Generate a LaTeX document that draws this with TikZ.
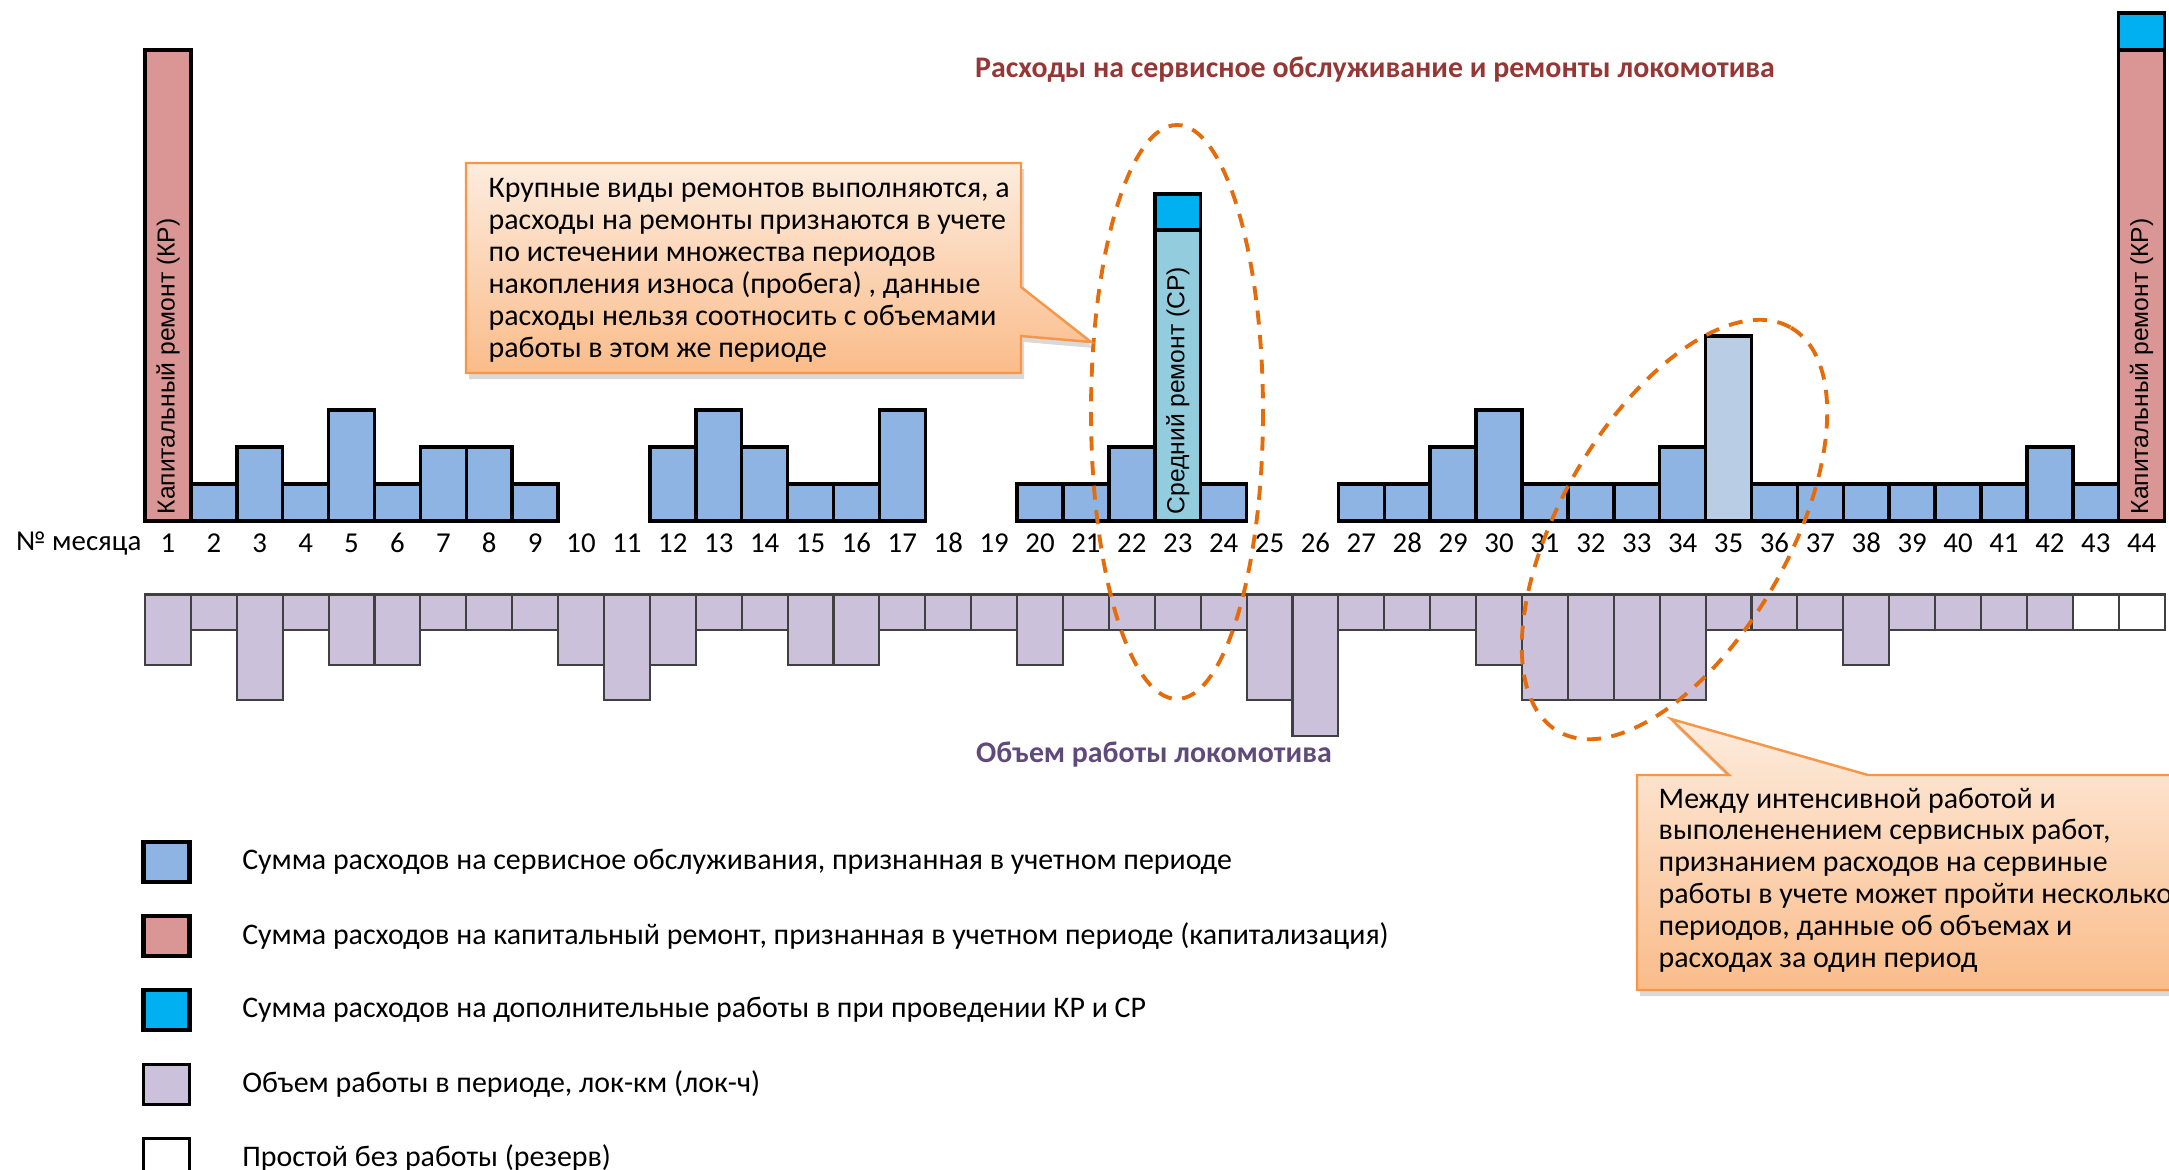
\documentclass[tikz,border=0pt]{standalone}
\usepackage{fontspec}
\setmainfont{Carlito}
\newfontfamily\barfont{Liberation Sans}
\usetikzlibrary{positioning,shadows}

\definecolor{srv}{RGB}{141,180,226}
\definecolor{srvlight}{RGB}{185,205,229}
\definecolor{kr}{RGB}{217,150,148}
\definecolor{sr}{RGB}{147,205,221}
\definecolor{extra}{RGB}{0,176,240}
\definecolor{vol}{RGB}{204,193,218}
\definecolor{headred}{RGB}{149,55,53}
\definecolor{headviolet}{RGB}{96,74,123}
\definecolor{noteline}{RGB}{247,150,70}
\definecolor{notetop}{RGB}{253,236,222}
\definecolor{notebot}{RGB}{250,188,138}
\definecolor{ring}{RGB}{228,108,10}

\begin{document}
\begin{tikzpicture}[
  x=0.01cm, y=-0.01cm,
  bar/.style={draw=black, line width=1pt},
  volbar/.style={draw=black!75, line width=0.6pt, fill=vol},
  mon/.style={inner sep=0pt, font=\fontsize{8.2}{9}\selectfont},
  vlabel/.style={rotate=90, anchor=west, inner sep=0pt, font=\barfont\fontsize{7}{8}\selectfont},
  head/.style={inner sep=0pt, font=\bfseries\fontsize{8.5}{10}\selectfont},
  note/.style={draw=noteline, line width=0.7pt, top color=notetop, bottom color=notebot,
    drop shadow={shadow xshift=0.3mm, shadow yshift=-0.6mm, opacity=0.3}},
  notetext/.style={align=left, inner sep=0pt, font=\fontsize{8.5}{9.05}\selectfont},
  ringline/.style={draw=ring, line width=1.1pt, dash pattern=on 4pt off 3pt},
  key/.style={draw=black, line width=1.2pt, minimum width=0.46cm, minimum height=0.40cm,
    inner sep=0pt, outer sep=0pt},
  keytext/.style={inner sep=0pt, font=\fontsize{8.5}{10}\selectfont}
]
\useasboundingbox (0,0) rectangle (2169,1169);
\clip (0,0) rectangle (2169,1169);

% costs per month (service)
\foreach \h [count=\i] in {0,1,2,1,3,1,2,2,1,0,0,2,3,2,1,1,3,0,0,1,1,2,0,1,0,0,1,1,2,3,1,1,1,2,0,1,1,1,1,1,1,2,1,0}{
  \ifnum\h>0
    \draw[bar, fill=srv] ({145+(\i-1)*45.9},521) rectangle ({145+\i*45.9},{521-37*\h});
  \fi
}
% repairs
\draw[bar, fill=kr] (145,521) rectangle (190.9,50);
\draw[bar, fill=sr] (1154.8,521) rectangle (1200.7,230);
\draw[bar, fill=extra] (1154.8,230) rectangle (1200.7,194);
\draw[bar, fill=srvlight] (1705.6,521) rectangle (1751.5,336);
\draw[bar, fill=kr] (2118.7,521) rectangle (2164.6,50);
\draw[bar, fill=extra] (2118.7,50) rectangle (2164.6,13);
\node[vlabel] (kr1) at (168,515) {Капитальный ремонт (КР)};
\node[vlabel] (sr23) at (1177.8,515) {Средний ремонт (СР)};
\node[vlabel] (kr44) at (2141.6,515) {Капитальный ремонт (КР)};

% months
\node[mon, anchor=east] (monthlbl) at (142,543) {№ месяца};
\foreach \i in {1,...,44}
  \node[mon] (m\i) at ({145+(\i-0.5)*45.9},543) {\i};

% work volume
\foreach \v [count=\i] in {2,1,3,1,2,2,1,1,1,2,3,2,1,1,2,2,1,1,1,2,1,1,1,1,3,4,1,1,1,2,3,3,3,3,1,1,1,2,1,1,1,1}
  \draw[volbar] ({145+(\i-1)*45.9},594.5) rectangle ({145+\i*45.9},{594.5+35.3*\v});
\foreach \i in {43,44}
  \draw[volbar, fill=white] ({145+(\i-1)*45.9},594.5) rectangle ({145+\i*45.9},629.8);

\node[head, text=headred] (costhead) at (1375,70) {Расходы на сервисное обслуживание и ремонты локомотива};
\node[head, text=headviolet, font=\bfseries\fontsize{8.5}{10}\selectfont] (workhead) at (1154,755) {Объем работы локомотива};

% dashed rings
\draw[ringline] (1177,412) ellipse [x radius=86, y radius=287];
\draw[ringline, rotate around={60:(1674.5,529.5)}] (1674.5,529.5) ellipse [x radius=233, y radius=114];

% callouts
\path[note] (466,163) -- (1021,163) -- (1021,287) -- (1091,342) -- (1021,336) -- (1021,373) -- (466,373) -- cycle;
\node[notetext, anchor=north west] (leftnote) at (488,178) {Крупные виды ремонтов выполняются, а\\
расходы на ремонты признаются в учете\\
по истечении множества периодов\\
накопления износа (пробега) , данные\\
расходы нельзя соотносить с объемами\\
работы в этом же периоде};
\path[note] (1637,775) -- (1729,775) -- (1671,719) -- (1868,775) -- (2200,775) -- (2200,990) -- (1637,990) -- cycle;
\node[notetext, anchor=north west] (rightnote) at (1658,787) {Между интенсивной работой и\\
выполененением сервисных работ,\\
признанием расходов на сервиные\\
работы в учете может пройти несколько\\
периодов, данные об объемах и\\
расходах за один период};

% legend
\node[key, fill=srv] (k1) at (166.5,862) {};
\node[key, fill=kr, below=0.34cm of k1] (k2) {};
\node[key, fill=extra, below=0.34cm of k2] (k3) {};
\node[key, fill=vol, line width=0.8pt, below=0.34cm of k3] (k4) {};
\node[key, fill=white, line width=0.8pt, below=0.34cm of k4] (k5) {};
\node[keytext, right=0.52cm of k1] (t1) {Сумма расходов на сервисное обслуживания, признанная в учетном периоде};
\node[keytext, right=0.52cm of k2] (t2) {Сумма расходов на капитальный ремонт, признанная в учетном периоде (капитализация)};
\node[keytext, right=0.52cm of k3] (t3) {Сумма расходов на дополнительные работы в при проведении КР и СР};
\node[keytext, right=0.52cm of k4] (t4) {Объем работы в периоде, лок-км (лок-ч)};
\node[keytext, right=0.52cm of k5] (t5) {Простой без работы (резерв)};
\end{tikzpicture}
\end{document}
